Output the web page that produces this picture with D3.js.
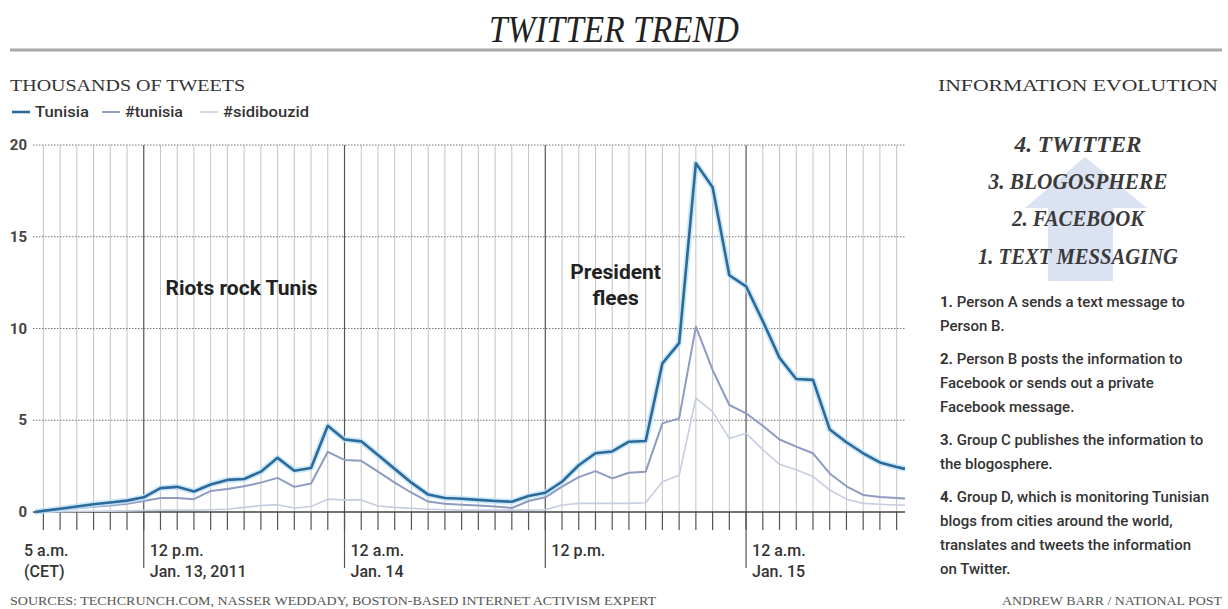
<!DOCTYPE html>
<html><head><meta charset="utf-8">
<script src="https://cdn.jsdelivr.net/npm/d3@7/dist/d3.min.js"></script>
<style>
body{margin:0;background:#fff}
.sans{font-family:"Liberation Sans Narrow","Roboto","Liberation Sans",sans-serif}
.serif{font-family:"Liberation Serif","DejaVu Serif",serif}
</style>
</head><body>
<svg id="c" width="1228" height="609"></svg>
<script>
// ---- data (hours relative to 12 p.m. Jan. 13, 2011, CET) ----
const hours = [-6.5, ...d3.range(-6, 46), 45.5];
const tunisia = [0,0.06,0.18,0.3,0.42,0.52,0.62,0.8,
  1.3,1.37,1.12,1.5,1.75,1.8,2.2,2.95,2.25,2.4,
  4.7,3.95,3.85,3.1,2.35,1.6,0.95,0.76,0.72,0.66,
  0.6,0.56,0.87,1.05,1.65,2.55,3.2,3.3,3.83,3.87,
  8.1,9.2,19.0,17.7,12.9,12.3,10.4,8.4,7.25,7.2,
  4.5,3.8,3.2,2.7,2.45,2.35];
const hashTunisia = [0,0.04,0.12,0.2,0.28,0.36,0.45,0.6,
  0.76,0.76,0.7,1.15,1.25,1.4,1.6,1.86,1.37,1.55,
  3.28,2.84,2.79,2.2,1.6,1.05,0.57,0.45,0.4,0.35,
  0.3,0.22,0.6,0.8,1.38,1.9,2.23,1.83,2.14,2.2,
  4.83,5.1,10.1,7.74,5.83,5.38,4.7,3.95,3.56,3.2,
  2.1,1.4,0.93,0.82,0.76,0.74];
const hashSidibouzid = [0,0,0.02,0.03,0.04,0.05,0.06,0.08,
  0.1,0.1,0.1,0.12,0.15,0.25,0.35,0.4,0.22,0.3,
  0.7,0.66,0.66,0.33,0.25,0.2,0.15,0.12,0.1,0.1,
  0.1,0.1,0.1,0.12,0.38,0.47,0.47,0.47,0.47,0.5,
  1.65,2.0,6.2,5.47,4.0,4.29,3.4,2.6,2.3,1.93,
  1.2,0.7,0.47,0.42,0.38,0.38];
const seriesNames = ["Tunisia", "#tunisia", "#sidibouzid"];
const yTicks = [0, 5, 10, 15, 20];
const majorHours = [-6.5, 0, 12, 24, 36];
const xLabels = [["5 a.m.", "(CET)"], ["12 p.m.", "Jan. 13, 2011"], ["12 a.m.", "Jan. 14"], ["12 p.m.", ""], ["12 a.m.", "Jan. 15"]];
const annotations = [{h: 1.3, v: 11.8, lines: ["Riots rock Tunis"], anchor: "start"},
                     {h: 28.2, v: 12.7, lines: ["President", "flees"], anchor: "middle"}];
const stages = ["4. TWITTER", "3. BLOGOSPHERE", "2. FACEBOOK", "1. TEXT MESSAGING"];
const steps = [
  [["1.", " Person A sends a text message to"], ["", "Person B."]],
  [["2.", " Person B posts the information to"], ["", "Facebook or sends out a private"], ["", "Facebook message."]],
  [["3.", " Group C publishes the information to"], ["", "the blogosphere."]],
  [["4.", " Group D, which is monitoring Tunisian"], ["", "blogs from cities around the world,"], ["", "translates and tweets the information"], ["", "on Twitter."]]
];

const svg = d3.select("#c");
const x = d3.scaleLinear().domain([-6.5, 45.5]).range([35, 905]);
const y = d3.scaleLinear().domain([0, 20]).range([512, 145]);

// title
svg.append("text").attr("class","serif").attr("x",614).attr("y",42)
  .attr("text-anchor","middle").attr("font-size",38).attr("font-style","italic")
  .attr("fill","#222").attr("textLength",250).attr("lengthAdjust","spacingAndGlyphs")
  .text("TWITTER TREND");
svg.append("rect").attr("x",10).attr("y",48.5).attr("width",1212).attr("height",3).attr("fill","#a8a8a8");

svg.append("text").attr("class","serif").attr("x",10).attr("y",91).attr("font-size",17)
  .attr("fill","#333").attr("textLength",235).attr("lengthAdjust","spacingAndGlyphs").text("THOUSANDS OF TWEETS");
svg.append("text").attr("class","serif").attr("x",1218).attr("y",91).attr("font-size",17)
  .attr("text-anchor","end").attr("fill","#333").attr("textLength",280).attr("lengthAdjust","spacingAndGlyphs").text("INFORMATION EVOLUTION");

// legend
const colors = ["#2c6a9a", "#8e9cc0", "#c6cde2"];
const widths = [2.6, 2, 1.6];
const legX = [12, 102, 200];
const legW = [54, 58, 86];
seriesNames.forEach((n,i)=>{
  svg.append("line").attr("x1",legX[i]).attr("x2",legX[i]+18).attr("y1",112).attr("y2",112)
    .attr("stroke",colors[i]).attr("stroke-width",widths[i]);
  svg.append("text").attr("class","sans").attr("x",legX[i]+23).attr("y",117).attr("font-size",15)
    .attr("font-weight",500).attr("fill","#333").attr("textLength",legW[i]).attr("lengthAdjust","spacingAndGlyphs").text(n);
});

// grid
const g = svg.append("g");
const allHours = d3.range(-6, 46);
g.selectAll(".vg").data(allHours.filter(h=>!majorHours.includes(h))).join("line")
  .attr("x1",d=>x(d)).attr("x2",d=>x(d)).attr("y1",y(20)).attr("y2",y(0))
  .attr("stroke","#c4c4c4").attr("stroke-width",1);
g.selectAll(".tk").data(allHours).join("line")
  .attr("x1",d=>x(d)).attr("x2",d=>x(d)).attr("y1",y(0)).attr("y2",y(0)+18)
  .attr("stroke","#555").attr("stroke-width",1.2);
g.selectAll(".mj").data(majorHours.slice(1)).join("line")
  .attr("x1",d=>x(d)).attr("x2",d=>x(d)).attr("y1",y(20)).attr("y2",568)
  .attr("stroke","#555").attr("stroke-width",1.2);
g.selectAll(".hg").data(yTicks.slice(1)).join("line")
  .attr("x1",33).attr("x2",905).attr("y1",d=>y(d)).attr("y2",d=>y(d))
  .attr("stroke","#777").attr("stroke-width",1.2).attr("stroke-dasharray","1.5,1.5");
g.append("line").attr("x1",33).attr("x2",905).attr("y1",y(0)).attr("y2",y(0))
  .attr("stroke","#444").attr("stroke-width",1.5);
g.selectAll(".yl").data(yTicks).join("text").attr("class","sans")
  .attr("x",27).attr("y",d=>y(d)+5).attr("text-anchor","end").attr("font-size",15)
  .attr("font-weight","bold").attr("fill","#444").text(d=>d);

// x labels
xLabels.forEach((l,i)=>{
  const xx = i===0 ? 24 : x(majorHours[i])+6;
  svg.append("text").attr("class","sans").attr("x",xx).attr("y",556).attr("font-size",16).attr("font-weight",500).attr("fill","#333").text(l[0]);
  svg.append("text").attr("class","sans").attr("x",xx).attr("y",577).attr("font-size",16).attr("font-weight",500).attr("fill","#333").text(l[1]);
});

// annotations
annotations.forEach(a=>{
  a.lines.forEach((t,j)=>{
    svg.append("text").attr("class","sans").attr("x",x(a.h)).attr("y",y(a.v)+j*26)
      .attr("text-anchor",a.anchor).attr("font-size",21).attr("font-weight","bold").attr("fill","#222").text(t);
  });
});

// lines
const line = d3.line().x((d,i)=>x(hours[i])).y(d=>y(d));
const pl = svg.append("g");
pl.append("path").datum(hashSidibouzid).attr("d",line).attr("fill","none").attr("stroke",colors[2]).attr("stroke-width",widths[2]).attr("stroke-linejoin","round");
pl.append("path").datum(hashTunisia).attr("d",line).attr("fill","none").attr("stroke",colors[1]).attr("stroke-width",widths[1]).attr("stroke-linejoin","round");
pl.append("path").datum(tunisia).attr("d",line).attr("fill","none").attr("stroke","#bfe2f6").attr("stroke-width",6).attr("stroke-linejoin","round").attr("opacity",0.8);
pl.append("path").datum(tunisia).attr("d",line).attr("fill","none").attr("stroke",colors[0]).attr("stroke-width",widths[0]).attr("stroke-linejoin","round");

// right panel: arrow
const ax = 1085;
svg.append("path").attr("fill","#dbe2f1")
  .attr("d",`M${ax},157 L${ax+62},208 L${ax+28},208 L${ax+28},281 L${ax-37},281 L${ax-37},208 L${ax-60},208 Z`);
const stageY = [152, 189, 226, 264];
const stageW = [127, 179, 132, 200];
stages.forEach((s,i)=>{
  svg.append("text").attr("class","serif").attr("x",1078).attr("y",stageY[i]).attr("text-anchor","middle")
    .attr("font-size",24).attr("font-style","italic").attr("font-weight","bold").attr("fill","#3a3a3a")
    .attr("textLength",stageW[i]).attr("lengthAdjust","spacingAndGlyphs").text(s);
});
let ly = 307;
steps.forEach(st=>{
  st.forEach(([b,t])=>{
    const tx = svg.append("text").attr("class","sans").attr("x",940).attr("y",ly).attr("font-size",15).attr("font-weight",500).attr("fill","#333");
    if (b) tx.append("tspan").attr("font-weight","bold").text(b);
    tx.append("tspan").text(t);
    ly += 24;
  });
  ly += 9;
});

// footer
svg.append("text").attr("class","serif").attr("x",10).attr("y",605).attr("font-size",12.5).attr("fill","#555")
  .attr("textLength",646).attr("lengthAdjust","spacingAndGlyphs")
  .text("SOURCES: TECHCRUNCH.COM, NASSER WEDDADY, BOSTON-BASED INTERNET ACTIVISM EXPERT");
svg.append("text").attr("class","serif").attr("x",1222).attr("y",605).attr("font-size",12.5).attr("fill","#555")
  .attr("text-anchor","end").attr("textLength",220).attr("lengthAdjust","spacingAndGlyphs")
  .text("ANDREW BARR / NATIONAL POST");
</script>
</body></html>
